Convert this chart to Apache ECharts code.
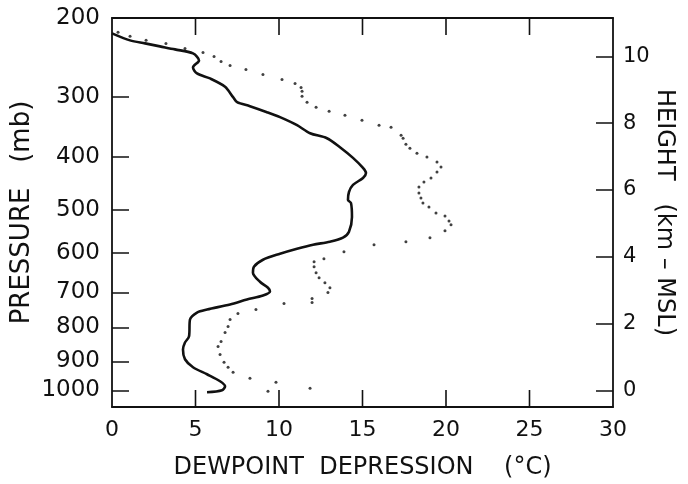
<!DOCTYPE html>
<html>
<head>
<meta charset="utf-8">
<script src="https://cdn.jsdelivr.net/npm/echarts@6/dist/echarts.min.js"></script>
<style>
html,body{margin:0;padding:0;background:#fff;}
#c{width:688px;height:484px;}
</style>
</head>
<body>
<div id="c"></div>
<script>
// Solid profile: [dewpoint depression (°C), height (km-MSL)]
var solidDepression = [0,1.08,1.98,2.87,3.77,4.85,5.21,4.85,5.09,5.87,6.77,7.25,7.49,8.26,9.28,10.06,11.08,11.86,12.87,13.65,14.43,15.03,15.21,15.03,14.43,14.19,14.13,14.31,14.37,14.19,13.83,13.05,12.04,11.08,10.06,9.04,8.5,8.44,8.86,9.34,9.46,9.04,8.08,7.07,5.69,5.09,4.67,4.61,4.37,4.25,4.37,4.85,5.69,6.47,6.77,6.59,5.69];
var solidHeight = [10.69,10.48,10.39,10.3,10.21,10.09,9.88,9.67,9.49,9.34,9.09,8.78,8.63,8.51,8.33,8.18,7.94,7.7,7.55,7.28,6.96,6.66,6.51,6.36,6.15,5.94,5.7,5.61,5.19,4.75,4.57,4.45,4.36,4.24,4.09,3.91,3.7,3.52,3.25,3.07,2.96,2.84,2.72,2.57,2.42,2.33,2.12,1.61,1.43,1.22,0.93,0.69,0.48,0.27,0.12,0.0,-0.06];

// Dotted profile: [dewpoint depression (°C), height (km-MSL)]
var dotDepression = [0.36,1.08,2.04,3.23,4.37,5.45,6.11,6.53,7.07,8.02,9.04,10.18,10.96,11.32,11.38,11.38,11.68,12.22,13.0,13.95,14.97,15.99,16.71,17.31,17.43,17.6,17.84,18.26,18.86,19.46,19.7,19.46,19.1,18.68,18.38,18.38,18.5,18.62,18.98,19.4,19.94,20.18,20.3,19.94,19.04,17.6,15.69,13.89,12.69,12.1,12.1,12.22,12.4,12.75,13.05,12.93,11.98,11.98,10.3,8.62,7.54,7.07,6.95,6.77,6.53,6.35,6.47,6.71,6.95,7.25,8.26,9.82,9.34,11.86];
var dotHeight = [10.72,10.6,10.48,10.39,10.24,10.12,10.0,9.85,9.73,9.61,9.46,9.31,9.19,9.07,8.96,8.81,8.63,8.48,8.36,8.24,8.09,7.94,7.88,7.64,7.55,7.37,7.25,7.1,6.99,6.84,6.69,6.54,6.36,6.24,6.09,5.91,5.76,5.61,5.49,5.31,5.22,5.07,4.96,4.78,4.57,4.45,4.36,4.15,3.94,3.85,3.7,3.52,3.37,3.22,3.07,2.93,2.75,2.63,2.6,2.42,2.3,2.12,1.91,1.73,1.46,1.31,1.07,0.84,0.69,0.54,0.36,0.24,-0.03,0.06];

// Pressure tick labels and the heights (km) at which they sit on the left axis
var pressureLabels = ['200','300','400','500','600','700','800','900','1000'];
var pressureHeights = [11.15,8.78,6.99,5.40,4.12,2.93,1.88,0.87,0.0];
// Right axis height ticks (km)
var heightTicks = [0,2,4,6,8,10];
// Bottom axis range, step and inner tick marks
var xMin = 0, xMax = 30, xStep = 5;
var xInnerTicks = [5,10,15,20,25];
var yMin = -0.5, yMax = 11.15;

var FONT = 'DejaVu Sans';
var INK = '#111';
var TICK_LEN = 17;
var TICK_KM = 0.51; // tick length in y-axis units (about 17 px)

function zip(a,b){var r=[];for(var i=0;i<a.length;i++)r.push([a[i],b[i]]);return r;}

var axisLine = {show:true, onZero:false, lineStyle:{color:INK, width:1.8}};
var tickStyle = {show:true, inside:true, length:TICK_LEN, lineStyle:{color:INK, width:1.5}};

var series = [
  {type:'line', data:zip(solidDepression, solidHeight), xAxisIndex:0, yAxisIndex:1,
   showSymbol:false, smooth:0.3, lineStyle:{color:INK, width:2.6}},
  {type:'scatter', data:zip(dotDepression, dotHeight), xAxisIndex:0, yAxisIndex:1,
   symbol:'circle', symbolSize:3, itemStyle:{color:INK}}
];
// Inward frame ticks on bottom and top edges, drawn as short segments through the axes' scales
xInnerTicks.forEach(function(v){
  [[yMin, yMin + TICK_KM], [yMax, yMax - TICK_KM]].forEach(function(seg){
    series.push({type:'line', xAxisIndex:0, yAxisIndex:1, silent:true, showSymbol:false,
      symbol:'none', animation:false, z:5,
      lineStyle:{color:INK, width:1.6}, data:[[v, seg[0]], [v, seg[1]]]});
  });
});

var chart = echarts.init(document.getElementById('c'), null, {renderer:'canvas'});
chart.setOption({
  backgroundColor:'#fff',
  animation:false,
  grid:{left:112, right:75, top:18, bottom:77, containLabel:false, outerBoundsMode:'none'},
  xAxis:[
    {type:'value', position:'bottom', min:xMin, max:xMax, interval:xStep,
     axisLine:axisLine,
     axisTick:{show:false},
     axisLabel:{color:INK, fontFamily:FONT, fontSize:22, margin:12},
     splitLine:{show:false},
     name:'DEWPOINT  DEPRESSION    (\u00B0C)', nameLocation:'middle', nameGap:49, nameMoveOverlap:false,
     nameTextStyle:{color:INK, fontFamily:FONT, fontSize:24}},
    {type:'value', position:'top', min:xMin, max:xMax, interval:xStep,
     axisLine:axisLine,
     axisTick:{show:false},
     axisLabel:{show:false},
     splitLine:{show:false}}
  ],
  yAxis:[
    {type:'value', position:'left', min:yMin, max:yMax,
     axisLine:axisLine,
     axisTick:Object.assign({}, tickStyle, {customValues:pressureHeights}),
     axisLabel:{color:INK, fontFamily:FONT, fontSize:23, margin:12, customValues:pressureHeights,
       formatter:function(v){
         for(var i=0;i<pressureHeights.length;i++){ if(Math.abs(pressureHeights[i]-v)<1e-6) return pressureLabels[i]; }
         return '';
       }},
     splitLine:{show:false},
     name:'PRESSURE   (mb)', nameLocation:'middle', nameGap:77, nameRotate:90, nameMoveOverlap:false,
     nameTextStyle:{color:INK, fontFamily:FONT, fontSize:26}},
    {type:'value', position:'right', min:yMin, max:yMax,
     axisLine:axisLine,
     axisTick:Object.assign({}, tickStyle, {customValues:heightTicks}),
     axisLabel:{color:INK, fontFamily:FONT, fontSize:21, margin:10, customValues:heightTicks},
     splitLine:{show:false},
     name:'HEIGHT   (km \u2013 MSL)', nameLocation:'middle', nameGap:39, nameRotate:-90, nameMoveOverlap:false,
     nameTextStyle:{color:INK, fontFamily:FONT, fontSize:24}}
  ],
  series:series
});
</script>
</body>
</html>
